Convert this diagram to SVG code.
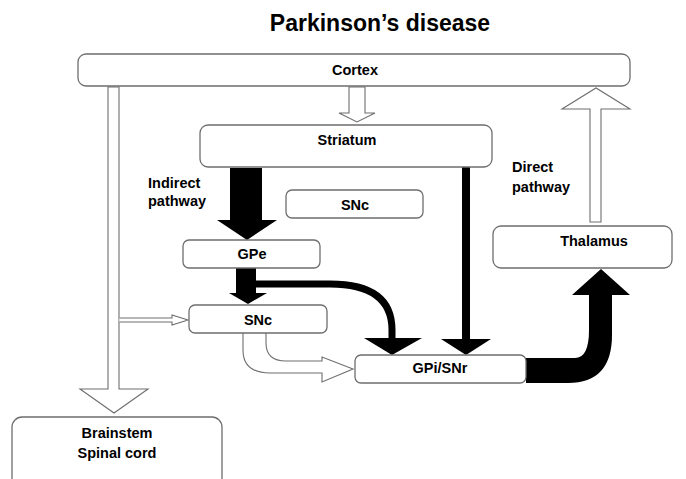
<svg xmlns="http://www.w3.org/2000/svg" width="686" height="479" viewBox="0 0 686 479">
<style>
.box{fill:#fff;stroke:#6e6e6e;stroke-width:1.3}
.lbl{font-family:"Liberation Sans",Arial,sans-serif;font-weight:bold;font-size:14.5px;fill:#000;text-anchor:middle}
.side{font-family:"Liberation Sans",Arial,sans-serif;font-weight:bold;font-size:14.5px;fill:#000}
.hollow{fill:#fff;stroke:#6e6e6e;stroke-width:1.1;stroke-linejoin:miter}
.solid{fill:#000;stroke:none}
.thick{fill:none;stroke:#000}
</style>
<rect width="686" height="479" fill="#fff"/>
<text x="380" y="31" style="font-family:'Liberation Sans',Arial,sans-serif;font-weight:bold;font-size:23px;text-anchor:middle">Parkinson’s disease</text>

<g id="connectors">
  <!-- Cortex to Brainstem -->
  <path class="hollow" d="M108,87 L119,87 L119,389 L148,389 L114,413 L80,389 L108,389 Z"/>
  <!-- side branch to SNc -->
  <path class="hollow" d="M119.5,318 L172,318 L172,315 L188,320 L172,325 L172,322 L119.5,322"/>
  <!-- Thalamus to Cortex -->
  <path class="hollow" d="M590,222 L590,109 L562,109 L596,88 L630,109 L601,109 L601,222 Z"/>
  <!-- Cortex to Striatum -->
  <path class="hollow" d="M349,87 L365,87 L365,113 L375,113 L357,122 L339,113 L349,113 Z"/>
  <!-- Striatum to GPe -->
  <path class="solid" d="M230,168 L262,168 L262,220 L277,220 L247,240 L217,220 L230,220 Z"/>
  <!-- GPe to SNc -->
  <path class="solid" d="M236,268 L256,268 L256,293 L267,293 L248,304 L229,293 L236,293 Z"/>
  <!-- GPe to GPi/SNr curved -->
  <path class="thick" stroke-width="7" d="M255,284 L330,284 Q392,284 392,330 L392,340"/>
  <path class="solid" d="M364,338 L422,338 L392,355 Z"/>
  <!-- Striatum to GPi/SNr direct -->
  <line x1="466" y1="167" x2="466" y2="341" stroke="#000" stroke-width="8"/>
  <path class="solid" d="M441,339 L491,339 L466,355 Z"/>
  <!-- SNc to GPi/SNr hollow curved -->
  <path class="hollow" d="M243,333 L243,350 Q243,373 270,373 L322,373 L322,382 L353,369 L322,357 L322,361 L286,361 Q266,361 266,343 L266,333"/>
  <!-- GPi/SNr to Thalamus -->
  <path class="solid" d="M526,358 L575,358 Q589,358 589,330 L589,295 L572,295 L601,269 L630,295 L612,295 L612,335 Q612,383 568,383 L526,383 Z"/>
</g>

<g id="cortex">
  <rect class="box" x="78" y="54" width="552" height="32" rx="8"/>
  <text class="lbl" x="355" y="75">Cortex</text>
</g>
<g id="striatum">
  <rect class="box" x="200" y="125" width="292" height="42" rx="8"/>
  <text class="lbl" x="347" y="145">Striatum</text>
</g>
<g id="snc-top">
  <rect class="box" x="286" y="190" width="137" height="28" rx="6"/>
  <text class="lbl" x="355" y="210">SNc</text>
</g>
<g id="gpe">
  <rect class="box" x="183" y="240" width="137" height="28" rx="6"/>
  <text class="lbl" x="252" y="259">GPe</text>
</g>
<g id="snc">
  <rect class="box" x="189" y="305" width="138" height="28" rx="6"/>
  <text class="lbl" x="258" y="325">SNc</text>
</g>
<g id="gpi-snr">
  <rect class="box" x="355" y="355" width="171" height="28" rx="6"/>
  <text class="lbl" x="440" y="373">GPi/SNr</text>
</g>
<g id="thalamus">
  <rect class="box" x="493" y="226" width="179" height="42" rx="8"/>
  <text class="lbl" x="594" y="246">Thalamus</text>
</g>
<g id="brainstem">
  <rect class="box" x="12" y="417" width="210" height="80" rx="10"/>
  <text class="lbl" x="117" y="438">Brainstem</text>
  <text class="lbl" x="117" y="458">Spinal cord</text>
</g>
<g id="labels">
  <text class="side" x="148" y="188">Indirect</text>
  <text class="side" x="148" y="206">pathway</text>
  <text class="side" x="512" y="172">Direct</text>
  <text class="side" x="512" y="192">pathway</text>
</g>
</svg>
